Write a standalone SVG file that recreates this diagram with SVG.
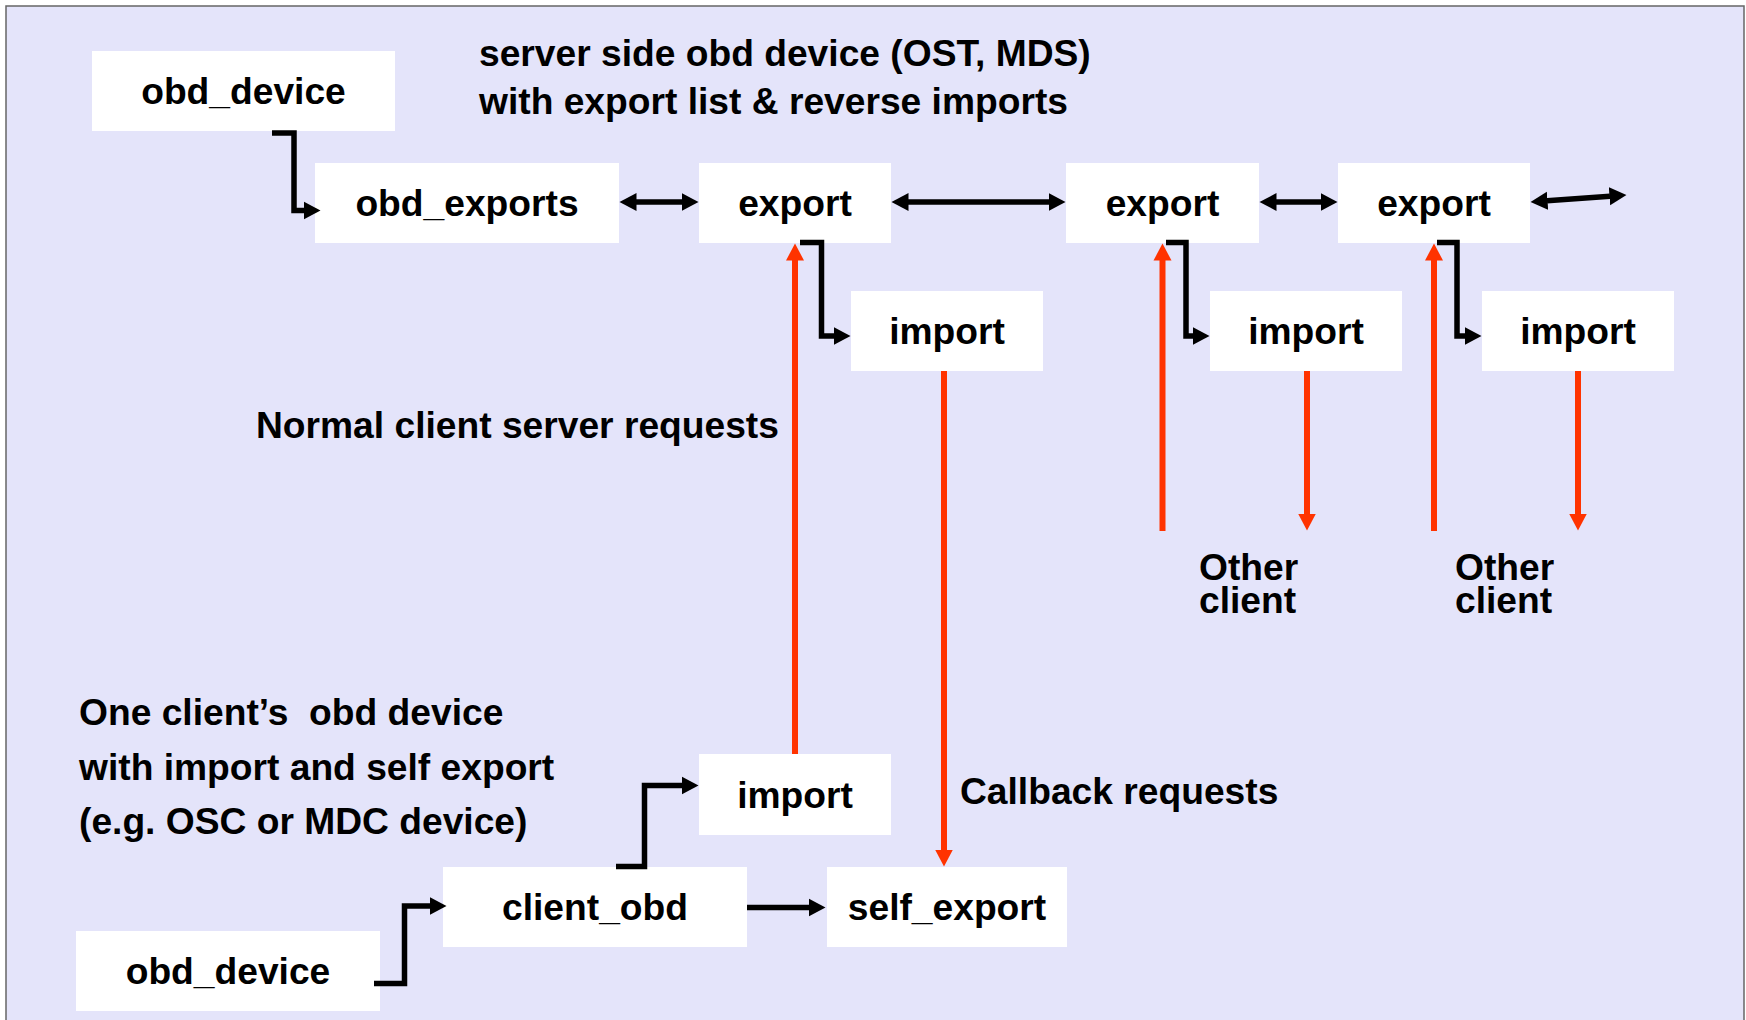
<svg xmlns="http://www.w3.org/2000/svg" width="1746" height="1020" viewBox="0 0 1746 1020">
<defs>
<style>
.box{fill:#ffffff;}
.t{font-family:"Liberation Sans",Arial,Helvetica,sans-serif;font-weight:bold;font-size:37.2px;fill:#000;white-space:pre;}
.c{text-anchor:middle;}
.k{fill:none;stroke:#000;stroke-width:5.5;stroke-linejoin:miter;}
.r{fill:none;stroke:#FF3300;stroke-width:6;}
</style>
<marker id="ab" viewBox="0 -10 18 20" refX="0.5" refY="0" markerWidth="18" markerHeight="20" markerUnits="userSpaceOnUse" orient="auto-start-reverse">
<path d="M0,-9 L17,0 L0,9 z" fill="#000"/>
</marker>
<marker id="ar" viewBox="0 -10 18 20" refX="0.5" refY="0" markerWidth="18" markerHeight="20" markerUnits="userSpaceOnUse" orient="auto-start-reverse">
<path d="M0,-9 L17,0 L0,9 z" fill="#FF3300"/>
</marker>
</defs>
<rect x="0" y="0" width="1746" height="1020" fill="#ffffff"/>
<rect x="6" y="6" width="1738" height="1040" fill="#E4E4FA" stroke="#666" stroke-width="1.5"/>

<g id="labels">
<text class="t" x="479" y="66">server side obd device (OST, MDS)</text>
<text class="t" x="479" y="114">with export list &amp; reverse imports</text>
<text class="t" x="256" y="438">Normal client server requests</text>
<text class="t" x="960" y="804">Callback requests</text>
<text class="t" x="1199" y="580">Other</text>
<text class="t" x="1199" y="613">client</text>
<text class="t" x="1455" y="580">Other</text>
<text class="t" x="1455" y="613">client</text>
<text class="t" x="79" y="725">One client’s  obd device</text>
<text class="t" x="79" y="780">with import and self export</text>
<text class="t" x="79" y="834">(e.g. OSC or MDC device)</text>
</g>

<g id="node-obd_device_top"><rect class="box" x="92" y="51" width="303" height="80"/><text class="t c" x="243.5" y="104">obd_device</text></g>
<g id="node-obd_exports"><rect class="box" x="315" y="163" width="304" height="80"/><text class="t c" x="467" y="216">obd_exports</text></g>
<g id="node-export1"><rect class="box" x="699" y="163" width="192" height="80"/><text class="t c" x="795" y="216">export</text></g>
<g id="node-export2"><rect class="box" x="1066" y="163" width="193" height="80"/><text class="t c" x="1162.5" y="216">export</text></g>
<g id="node-export3"><rect class="box" x="1338" y="163" width="192" height="80"/><text class="t c" x="1434" y="216">export</text></g>
<g id="node-import1"><rect class="box" x="851" y="291" width="192" height="80"/><text class="t c" x="947" y="344">import</text></g>
<g id="node-import2"><rect class="box" x="1210" y="291" width="192" height="80"/><text class="t c" x="1306" y="344">import</text></g>
<g id="node-import3"><rect class="box" x="1482" y="291" width="192" height="80"/><text class="t c" x="1578" y="344">import</text></g>
<g id="node-import_client"><rect class="box" x="699" y="754" width="192" height="81"/><text class="t c" x="795" y="808">import</text></g>
<g id="node-client_obd"><rect class="box" x="443" y="867" width="304" height="80"/><text class="t c" x="595" y="920">client_obd</text></g>
<g id="node-self_export"><rect class="box" x="827" y="867" width="240" height="80"/><text class="t c" x="947" y="920">self_export</text></g>
<g id="node-obd_device_bottom"><rect class="box" x="76" y="931" width="304" height="80"/><text class="t c" x="228" y="984">obd_device</text></g>

<g id="connectors">
<path class="k" d="M272,133 H294 V210.5 H304" marker-end="url(#ab)"/>
<path class="k" d="M636,202 H682" marker-start="url(#ab)" marker-end="url(#ab)"/>
<path class="k" d="M908,202 H1049" marker-start="url(#ab)" marker-end="url(#ab)"/>
<path class="k" d="M1276,202 H1321" marker-start="url(#ab)" marker-end="url(#ab)"/>
<path class="k" d="M1547,200.8 L1610,196.2" marker-start="url(#ab)" marker-end="url(#ab)"/>
<path class="k" d="M800,242.5 H821.5 V336 H834" marker-end="url(#ab)"/>
<path class="k" d="M1166,242.5 H1186 V336 H1193" marker-end="url(#ab)"/>
<path class="k" d="M1437,242.5 H1457 V336 H1465" marker-end="url(#ab)"/>
<path class="k" d="M374,983.5 H404.5 V906 H430" marker-end="url(#ab)"/>
<path class="k" d="M616,866.5 H644.5 V785.5 H682" marker-end="url(#ab)"/>
<path class="k" d="M747,907.5 H809" marker-end="url(#ab)"/>
<path class="r" d="M795,754 V260" marker-end="url(#ar)"/>
<path class="r" d="M944,371 V850" marker-end="url(#ar)"/>
<path class="r" d="M1162.5,531 V260" marker-end="url(#ar)"/>
<path class="r" d="M1307,371 V514" marker-end="url(#ar)"/>
<path class="r" d="M1434,531 V260" marker-end="url(#ar)"/>
<path class="r" d="M1578,371 V514" marker-end="url(#ar)"/>
</g>
</svg>
